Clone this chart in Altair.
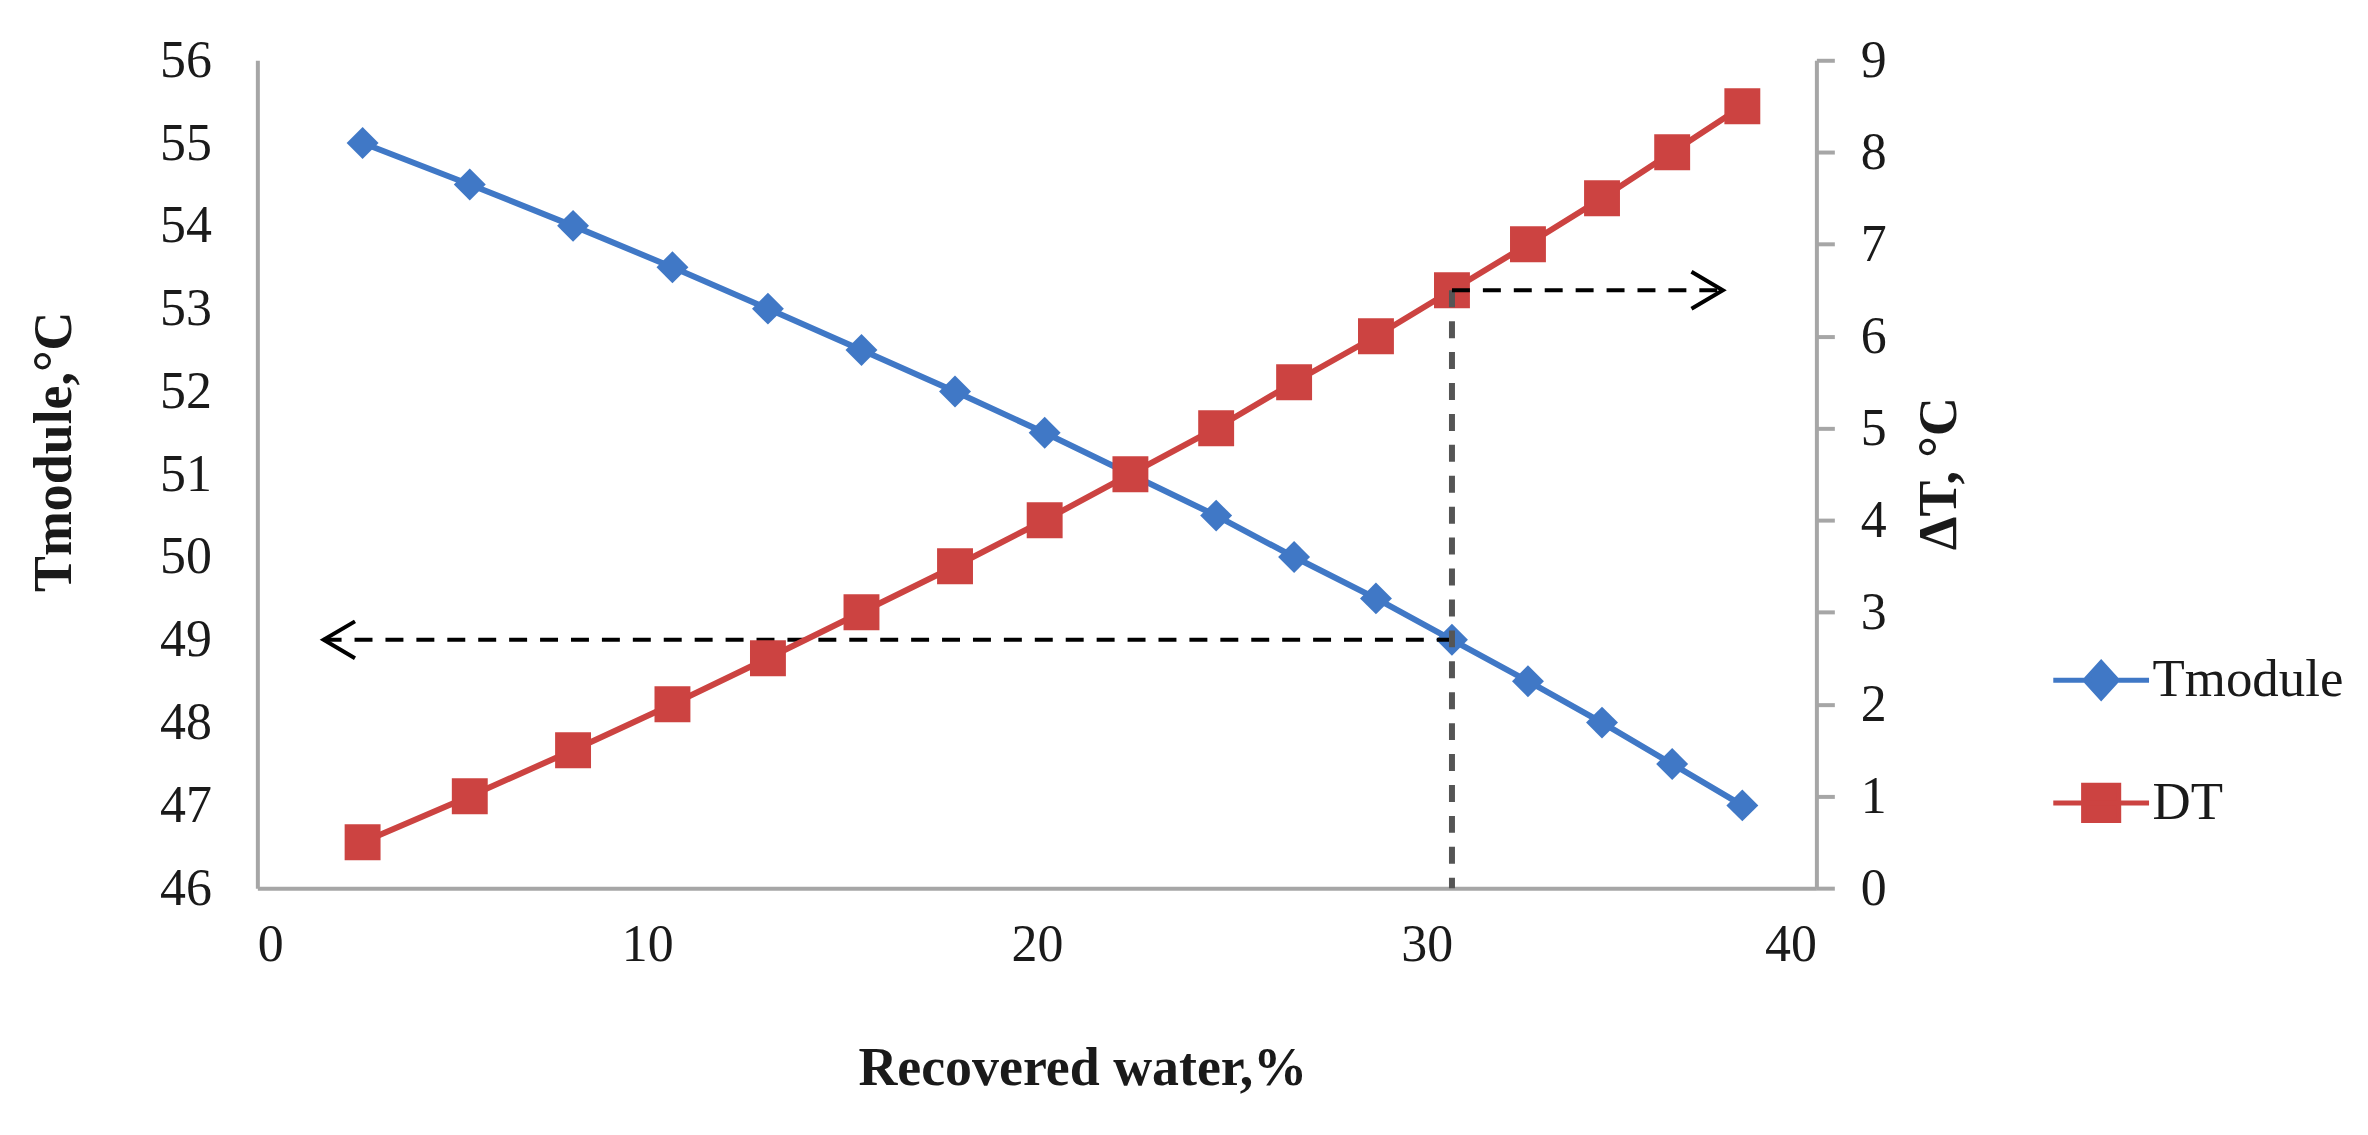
import altair as alt
import pandas as pd

# ---- data ----
x_vals = [2.7, 5.45, 8.1, 10.65, 13.1, 15.5, 17.9, 20.2, 22.4, 24.6, 26.6,
          28.7, 30.65, 32.6, 34.5, 36.3, 38.1]
tmodule = [55, 54.5, 54, 53.5, 53, 52.5, 52, 51.5, 51, 50.5, 50, 49.5, 49,
           48.5, 48, 47.5, 47]
dt = [0.5, 1, 1.5, 2, 2.5, 3, 3.5, 4, 4.5, 5, 5.5, 6, 6.5, 7, 7.5, 8, 8.5]
series_names = ["Tmodule", "DT"]
x_ticks = [0, 10, 20, 30, 40]
left_ticks = list(range(46, 57))
right_ticks = list(range(0, 10))
# guide (dashed arrow) values
guide_x = 30.65
guide_t = 49
guide_dt = 6.5
arrow_left_x = 1.7
arrow_right_x = 37.6

BLUE = "#4078c6"
RED = "#cc4341"
AXIS_GRAY = "#a6a6a6"
TEXT = "#1a1a1a"
FONT = "Liberation Serif"

df_t = pd.DataFrame({"x": x_vals, "v": tmodule})
df_d = pd.DataFrame({"x": x_vals, "v": dt})

x_axis = alt.Axis(
    title="Recovered water,%", values=x_ticks, grid=False, ticks=False, tickSize=0,
    domainColor=AXIS_GRAY, domainWidth=4,
    labelFont=FONT, labelFontSize=52, labelColor=TEXT, labelPadding=57,
    labelBaseline="middle",
    titleFont=FONT, titleFontSize=54, titleFontWeight="bold", titleColor=TEXT,
    titleX=827, titleY=181, titleAlign="center", titleBaseline="middle",
)
left_axis = alt.Axis(
    title="Tmodule,°C", values=left_ticks, orient="left", grid=False, ticks=False,
    tickSize=0, domainColor=AXIS_GRAY, domainWidth=4,
    labelFont=FONT, labelFontSize=52, labelColor=TEXT, labelPadding=46,
    titleFont=FONT, titleFontSize=54, titleFontWeight="bold", titleColor=TEXT,
    titleAngle=270, titleX=-203, titleY=392, titleAlign="center",
    titleBaseline="middle",
)
right_axis = alt.Axis(
    title="ΔT, °C", values=right_ticks, orient="right", grid=False, ticks=True,
    tickSize=18, tickWidth=4, tickColor=AXIS_GRAY,
    domainColor=AXIS_GRAY, domainWidth=4,
    labelFont=FONT, labelFontSize=52, labelColor=TEXT, labelPadding=26,
    titleFont=FONT, titleFontSize=54, titleFontWeight="bold", titleColor=TEXT,
    titleAngle=270, titleX=123, titleY=414, titleAlign="center",
    titleBaseline="middle",
)

x_scale = alt.Scale(domain=[0, 40], nice=False, zero=False)
left_scale = alt.Scale(domain=[46, 56], nice=False, zero=False)
right_scale = alt.Scale(domain=[0, 9], nice=False, zero=False)


def X(field="x"):
    return alt.X(f"{field}:Q", scale=x_scale, axis=x_axis)


def YL(field="v"):
    return alt.Y(f"{field}:Q", scale=left_scale, axis=left_axis)


def YR(field="v"):
    return alt.Y(f"{field}:Q", scale=right_scale, axis=right_axis)


# ---- Tmodule (left axis) ----
line_t = alt.Chart(df_t).mark_line(color=BLUE, strokeWidth=6).encode(x=X(), y=YL())
pts_t = alt.Chart(df_t).mark_point(shape="diamond", size=1024, filled=True,
                                   color=BLUE, opacity=1).encode(x=X(), y=YL())
hdash_l = alt.Chart(pd.DataFrame({"x": [arrow_left_x], "x2": [guide_x], "v": [guide_t]})).mark_rule(
    color="black", strokeWidth=4, strokeDash=[18, 13]
).encode(x=X(), x2="x2:Q", y=YL())
arrow_l = alt.Chart(pd.DataFrame({"x": [arrow_left_x], "v": [guide_t]})).mark_point(
    shape="M1.7,-1L0,0L1.7,1", size=1369, filled=False, color="black",
    strokeWidth=4, opacity=1
).encode(x=X(), y=YL())

left = alt.layer(line_t, pts_t, hdash_l, arrow_l)

# ---- DT (right axis) ----
line_d = alt.Chart(df_d).mark_line(color=RED, strokeWidth=6).encode(x=X(), y=YR())
pts_d = alt.Chart(df_d).mark_point(shape="square", size=1296, filled=True,
                                   color=RED, opacity=1).encode(x=X(), y=YR())
vdash = alt.Chart(pd.DataFrame({"x": [guide_x], "v": [guide_dt], "v2": [0]})).mark_rule(
    color="#555555", strokeWidth=6, strokeDash=[17, 14]
).encode(x=X(), y=YR(), y2="v2:Q")
hdash_r = alt.Chart(pd.DataFrame({"x": [guide_x], "x2": [arrow_right_x], "v": [guide_dt]})).mark_rule(
    color="black", strokeWidth=4, strokeDash=[18, 13]
).encode(x=X(), x2="x2:Q", y=YR())
arrow_r = alt.Chart(pd.DataFrame({"x": [arrow_right_x], "v": [guide_dt]})).mark_point(
    shape="M-1.7,-1L0,0L-1.7,1", size=1369, filled=False, color="black",
    strokeWidth=4, opacity=1
).encode(x=X(), y=YR())

right = alt.layer(line_d, pts_d, vdash, hdash_r, arrow_r)

# ---- legend (driven by scales only) ----
diamond_path = "M-3,0L3,0M0,-1.1L1,0L0,1.1L-1,0Z"
square_path = "M-3,0L3,0M-1.1,-1.1L1.1,-1.1L1.1,1.1L-1.1,1.1Z"
leg = alt.Legend(
    title=None, orient="none", legendX=1822, legendY=595, padding=0,
    symbolSize=1024, symbolStrokeWidth=5, labelFont=FONT, labelFontSize=53,
    labelColor=TEXT, labelOffset=25, rowPadding=66, labelLimit=0,
)
color_scale = alt.Scale(domain=series_names, range=[BLUE, RED])
legend_layer = alt.Chart(pd.DataFrame({"series": series_names})).transform_filter(
    "datum.series == 'none'"
).mark_point(filled=True, size=1024, strokeWidth=5, opacity=1).encode(
    fill=alt.Fill("series:N", scale=color_scale, legend=leg),
    stroke=alt.Stroke("series:N", scale=color_scale, legend=leg),
    shape=alt.Shape("series:N",
                    scale=alt.Scale(domain=series_names, range=[diamond_path, square_path]),
                    legend=leg),
)

chart = alt.layer(left, right, legend_layer).resolve_scale(y="independent").properties(
    width=1563, height=830,
    background="white",
    autosize=alt.AutoSizeParams(type="none"),
    padding={"left": 250, "top": 51, "right": 545, "bottom": 230},
).configure_view(strokeWidth=0, stroke="transparent")

chart.save("out.html", embed_options={"renderer": "svg", "actions": False})
